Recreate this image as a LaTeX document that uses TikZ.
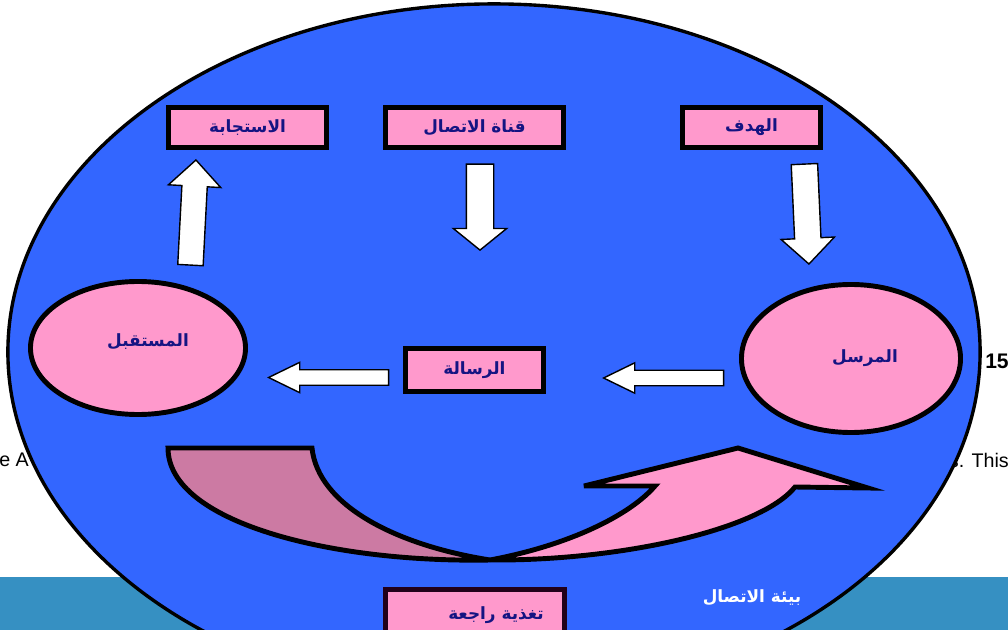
\documentclass[tikz,border=0pt]{standalone}
\usepackage{fontspec}
\setmainfont{Liberation Sans}
\newfontfamily\arabicfont[Script=Arabic]{DejaVu Sans}
\TeXXeTstate=1
\usetikzlibrary{shapes.geometric,shapes.arrows}

\definecolor{envblue}{RGB}{51,102,255}
\definecolor{boxpink}{RGB}{255,153,204}
\definecolor{feedmauve}{RGB}{204,122,163}
\definecolor{labelnavy}{RGB}{20,20,130}
\definecolor{slideteal}{RGB}{54,144,194}
\definecolor{feedborder}{RGB}{34,0,26}

\newcommand{\rtltext}[1]{\beginR #1\endR}

\tikzset{
    arabiclabel/.style={text=labelnavy, inner sep=0pt, font=\arabicfont\bfseries\fontsize{12}{14}\selectfont},
    termbox/.style={arabiclabel, rectangle, draw=black, line width=3.5pt, fill=boxpink},
    party/.style={ellipse, draw=black, line width=3.5pt, fill=boxpink, inner sep=0pt},
    blockarrow/.style={single arrow, draw=black, fill=white, line width=1pt, inner xsep=0pt, anchor=tip},
    feedband/.style={draw=black, line width=3.5pt, line join=miter, miter limit=8},
    slidetext/.style={inner sep=0pt, font=\fontsize{14}{16}\selectfont}
}

\begin{document}
\begin{tikzpicture}[x=0.025cm, y=-0.025cm]

    \clip (0, 0) rectangle (1008, 630);

    % Slide behind the diagram
    %% Background
    \fill [white] (0, 0) rectangle (1008, 630);
    \fill [slideteal] (0, 577) rectangle (1008, 630);

    %% Text of the slide
    \node (slideleft) at (-1, 460) [slidetext, anchor=west] {e A};
    \node (slideright) at (1009, 460) [slidetext, anchor=east] {s. This};
    \node (slideyear) at (1009, 361) [slidetext, anchor=east, font=\bfseries\fontsize{15}{17}\selectfont] {15};

    % Communication environment
    \node (env) at (494, 352) [ellipse, draw=black, line width=2.4pt, fill=envblue, minimum width=24.3cm, minimum height=17.4cm] {};
    \node (envlabel) at (752, 598) [arabiclabel, text=white] {\rtltext{بيئة الاتصال}};

    % Top row
    %% Boxes
    \node (response) at (247.5, 127.5) [termbox, minimum width=3.95cm, minimum height=1cm] {\rtltext{الاستجابة}};
    \node (channel) at (474.5, 127.5) [termbox, minimum width=4.45cm, minimum height=1cm] {\rtltext{قناة الاتصال}};
    \node (goal) at (751.5, 127.5) [termbox, minimum width=3.45cm, minimum height=1cm] {\rtltext{الهدف}};

    %% Arrows
    \node (uparrow) at (196, 159) [blockarrow, minimum height=2.63cm, inner ysep=0.3cm, single arrow head extend=0.3375cm, single arrow tip angle=90, rotate=87] {};
    \node (channelarrow) at (480, 251) [blockarrow, minimum height=2.15cm, inner ysep=0.325cm, single arrow head extend=0.325cm, single arrow tip angle=102, rotate=-90] {};
    \node (goalarrow) at (809, 265) [blockarrow, minimum height=2.5cm, inner ysep=0.3125cm, single arrow head extend=0.3375cm, single arrow tip angle=92, rotate=-87.4] {};

    % Middle row
    %% Sender and receiver
    \node (receiver) at (138, 348) [party, minimum width=5.375cm, minimum height=3.325cm] {};
    \node (receiverlabel) at (148, 342) [arabiclabel] {\rtltext{المستقبل}};
    \node (sender) at (851, 358.5) [party, minimum width=5.475cm, minimum height=3.7cm] {};
    \node (senderlabel) at (865, 358) [arabiclabel] {\rtltext{المرسل}};

    %% Message
    \node (message) at (474.5, 370) [termbox, minimum width=3.45cm, minimum height=1.075cm] {\rtltext{الرسالة}};

    %% Arrows
    \node (receiverarrow) at (267, 377.5) [blockarrow, minimum height=3cm, inner ysep=0.175cm, single arrow head extend=0.1875cm, single arrow tip angle=52, rotate=180] {};
    \node (messagearrow) at (602, 378) [blockarrow, minimum height=3cm, inner ysep=0.175cm, single arrow head extend=0.1875cm, single arrow tip angle=52, rotate=180] {};

    % Feedback
    %% Curved bands
    \draw [feedband, fill=feedmauve] (168, 448) -- (312, 448)
        .. controls (318, 505) and (395, 545) .. (490, 560)
        .. controls (330, 563) and (168, 522) .. (168, 448) -- cycle;
    \draw [feedband, fill=boxpink] (490, 560)
        .. controls (620, 561) and (760, 530) .. (795, 487)
        -- (868, 488) -- (738, 448) -- (584, 486) -- (655, 486)
        .. controls (630, 515) and (570, 545) .. (490, 560) -- cycle;

    %% Box
    \node (feedback) at (475, 615) [rectangle, draw=feedborder, line width=3.5pt, fill=boxpink, minimum width=4.475cm, minimum height=1.275cm] {};
    \node (feedbacklabel) at (496, 615) [arabiclabel] {\rtltext{تغذية راجعة}};

\end{tikzpicture}
\end{document}
